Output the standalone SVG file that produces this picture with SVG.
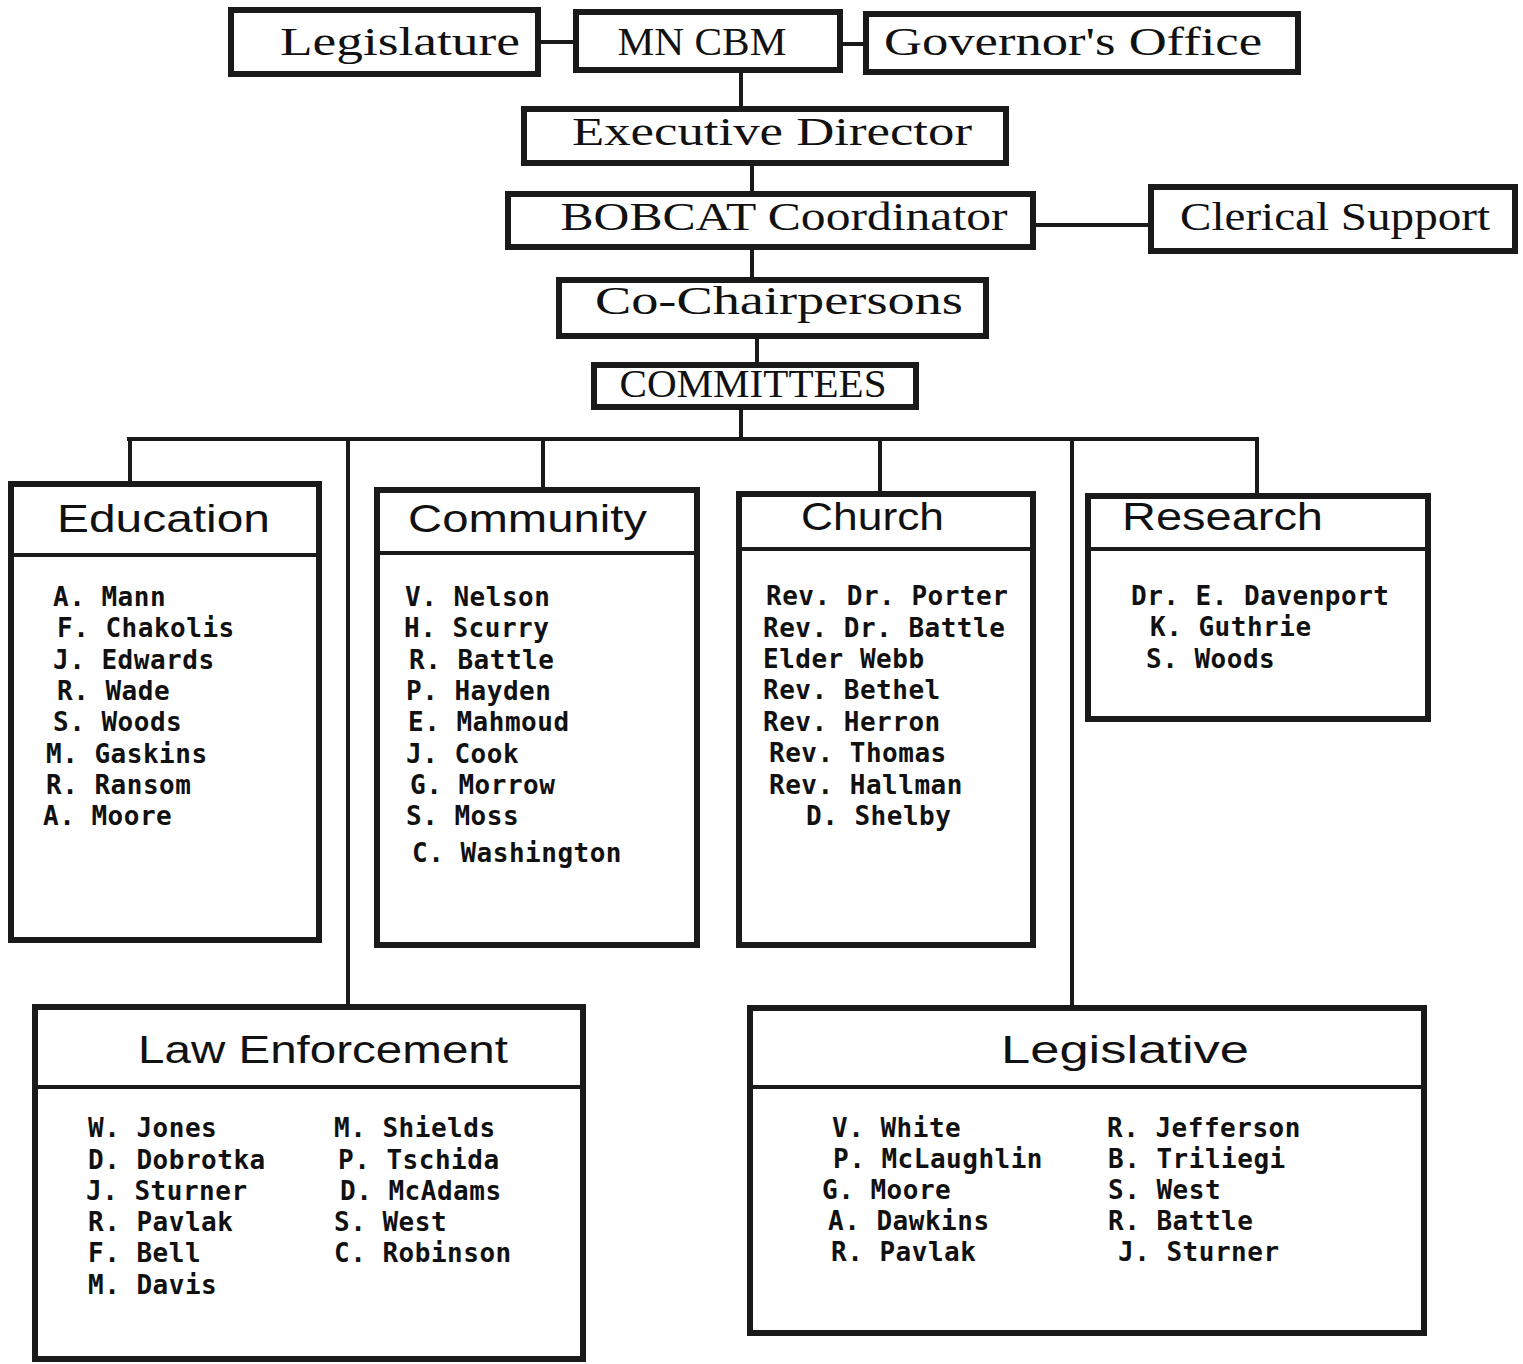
<svg xmlns="http://www.w3.org/2000/svg" width="1523" height="1364" viewBox="0 0 1523 1364">
<style>
.box{fill:#fff;stroke:#1a1a1a;stroke-width:6}
.cbox{fill:#fff;stroke:#1a1a1a;stroke-width:6}
.div{stroke:#1a1a1a;stroke-width:4}
.ln{stroke:#1a1a1a;stroke-width:4;fill:none}
.top{font-family:"Liberation Serif","DejaVu Serif",serif;font-size:40px;fill:#111;text-anchor:middle}
.ttl{font-family:"Liberation Sans","DejaVu Sans",sans-serif;font-size:38px;fill:#111}
.mem{font-family:"DejaVu Sans Mono","Liberation Mono",monospace;font-size:26px;font-weight:bold;letter-spacing:0.5px;fill:#111}
</style>
<rect width="1523" height="1364" fill="#fff"/>
<g id="connectors">
<line class="ln" x1="538" y1="42" x2="576" y2="42"/>
<line class="ln" x1="840" y1="44" x2="866" y2="44"/>
<line class="ln" x1="741" y1="70" x2="741" y2="109"/>
<line class="ln" x1="752" y1="163" x2="752" y2="194"/>
<line class="ln" x1="1033" y1="225" x2="1151" y2="225"/>
<line class="ln" x1="752" y1="247" x2="752" y2="280"/>
<line class="ln" x1="757" y1="336" x2="757" y2="365"/>
<line class="ln" x1="741" y1="407" x2="741" y2="439"/>
<line class="ln" x1="127" y1="439" x2="1259" y2="439"/>
<line class="ln" x1="130" y1="439" x2="130" y2="484"/>
<line class="ln" x1="348" y1="439" x2="348" y2="1007"/>
<line class="ln" x1="543" y1="439" x2="543" y2="490"/>
<line class="ln" x1="880" y1="439" x2="880" y2="494"/>
<line class="ln" x1="1072" y1="439" x2="1072" y2="1008"/>
<line class="ln" x1="1257" y1="439" x2="1257" y2="496"/>
</g>
<g id="legislature"><rect class="box" x="231" y="10" width="307" height="64"/><text class="top" x="400" y="55" textLength="240" lengthAdjust="spacingAndGlyphs">Legislature</text></g>
<g id="mncbm"><rect class="box" x="576" y="12" width="264" height="58"/><text class="top" x="702" y="55" textLength="169" lengthAdjust="spacingAndGlyphs">MN CBM</text></g>
<g id="governor"><rect class="box" x="866" y="14" width="432" height="58"/><text class="top" x="1073" y="55" textLength="378" lengthAdjust="spacingAndGlyphs">Governor's Office</text></g>
<g id="executive"><rect class="box" x="524" y="109" width="482" height="54"/><text class="top" x="772" y="145" textLength="400" lengthAdjust="spacingAndGlyphs">Executive Director</text></g>
<g id="bobcat"><rect class="box" x="508" y="194" width="525" height="53"/><text class="top" x="784" y="230" textLength="447" lengthAdjust="spacingAndGlyphs">BOBCAT Coordinator</text></g>
<g id="clerical"><rect class="box" x="1151" y="187" width="364" height="64"/><text class="top" x="1335" y="230" font-size="34" textLength="310" lengthAdjust="spacingAndGlyphs">Clerical Support</text></g>
<g id="cochair"><rect class="box" x="559" y="280" width="427" height="56"/><text class="top" x="779" y="314" textLength="368" lengthAdjust="spacingAndGlyphs">Co-Chairpersons</text></g>
<g id="committees"><rect class="box" x="594" y="365" width="322" height="42"/><text class="top" x="753" y="397" font-size="38" textLength="267" lengthAdjust="spacingAndGlyphs">COMMITTEES</text></g>

<g id="education">
<rect class="cbox" x="11" y="484" width="308" height="456"/>
<line class="div" x1="11" y1="555" x2="319" y2="555"/>
<text class="ttl" x="57" y="532" textLength="213" lengthAdjust="spacingAndGlyphs">Education</text>
<text class="mem" x="53" y="606">A. Mann</text>
<text class="mem" x="57" y="637">F. Chakolis</text>
<text class="mem" x="53" y="669">J. Edwards</text>
<text class="mem" x="57" y="700">R. Wade</text>
<text class="mem" x="53" y="731">S. Woods</text>
<text class="mem" x="46" y="763">M. Gaskins</text>
<text class="mem" x="46" y="794">R. Ransom</text>
<text class="mem" x="43" y="825">A. Moore</text>
</g>
<g id="community">
<rect class="cbox" x="377" y="490" width="320" height="455"/>
<line class="div" x1="377" y1="553" x2="697" y2="553"/>
<text class="ttl" x="408" y="532" textLength="239" lengthAdjust="spacingAndGlyphs">Community</text>
<text class="mem" x="405" y="606">V. Nelson</text>
<text class="mem" x="404" y="637">H. Scurry</text>
<text class="mem" x="409" y="669">R. Battle</text>
<text class="mem" x="406" y="700">P. Hayden</text>
<text class="mem" x="408" y="731">E. Mahmoud</text>
<text class="mem" x="406" y="763">J. Cook</text>
<text class="mem" x="410" y="794">G. Morrow</text>
<text class="mem" x="406" y="825">S. Moss</text>
<text class="mem" x="412" y="862">C. Washington</text>
</g>
<g id="church">
<rect class="cbox" x="739" y="494" width="294" height="451"/>
<line class="div" x1="739" y1="549" x2="1033" y2="549"/>
<text class="ttl" x="801" y="530" textLength="143" lengthAdjust="spacingAndGlyphs">Church</text>
<text class="mem" x="766" y="605">Rev. Dr. Porter</text>
<text class="mem" x="763" y="637">Rev. Dr. Battle</text>
<text class="mem" x="763" y="668">Elder Webb</text>
<text class="mem" x="763" y="699">Rev. Bethel</text>
<text class="mem" x="763" y="731">Rev. Herron</text>
<text class="mem" x="769" y="762">Rev. Thomas</text>
<text class="mem" x="769" y="794">Rev. Hallman</text>
<text class="mem" x="806" y="825">D. Shelby</text>
</g>
<g id="research">
<rect class="cbox" x="1088" y="496" width="340" height="223"/>
<line class="div" x1="1088" y1="549" x2="1428" y2="549"/>
<text class="ttl" x="1122" y="530" textLength="201" lengthAdjust="spacingAndGlyphs">Research</text>
<text class="mem" x="1131" y="605">Dr. E. Davenport</text>
<text class="mem" x="1150" y="636">K. Guthrie</text>
<text class="mem" x="1146" y="668">S. Woods</text>
</g>
<g id="law">
<rect class="cbox" x="35" y="1007" width="548" height="352"/>
<line class="div" x1="35" y1="1087" x2="583" y2="1087"/>
<text class="ttl" x="138" y="1063" textLength="370" lengthAdjust="spacingAndGlyphs">Law Enforcement</text>
<text class="mem" x="88" y="1137">W. Jones</text>
<text class="mem" x="88" y="1169">D. Dobrotka</text>
<text class="mem" x="86" y="1200">J. Sturner</text>
<text class="mem" x="88" y="1231">R. Pavlak</text>
<text class="mem" x="88" y="1262">F. Bell</text>
<text class="mem" x="88" y="1294">M. Davis</text>
<text class="mem" x="334" y="1137">M. Shields</text>
<text class="mem" x="338" y="1169">P. Tschida</text>
<text class="mem" x="340" y="1200">D. McAdams</text>
<text class="mem" x="334" y="1231">S. West</text>
<text class="mem" x="334" y="1262">C. Robinson</text>
</g>
<g id="legislative">
<rect class="cbox" x="750" y="1008" width="674" height="325"/>
<line class="div" x1="750" y1="1087" x2="1424" y2="1087"/>
<text class="ttl" x="1001" y="1063" textLength="248" lengthAdjust="spacingAndGlyphs">Legislative</text>
<text class="mem" x="832" y="1137">V. White</text>
<text class="mem" x="833" y="1168">P. McLaughlin</text>
<text class="mem" x="822" y="1199">G. Moore</text>
<text class="mem" x="828" y="1230">A. Dawkins</text>
<text class="mem" x="831" y="1261">R. Pavlak</text>
<text class="mem" x="1107" y="1137">R. Jefferson</text>
<text class="mem" x="1108" y="1168">B. Triliegi</text>
<text class="mem" x="1108" y="1199">S. West</text>
<text class="mem" x="1108" y="1230">R. Battle</text>
<text class="mem" x="1118" y="1261">J. Sturner</text>
</g>
</svg>
